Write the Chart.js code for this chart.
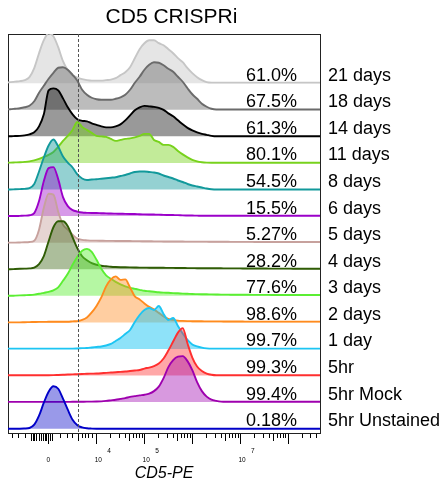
<!DOCTYPE html>
<html>
<head>
<meta charset="utf-8">
<script src="https://cdn.jsdelivr.net/npm/chart.js@4.4.1/dist/chart.umd.min.js"></script>
<style>
html,body{margin:0;padding:0;background:#fff;}
#wrap{width:448px;height:490px;position:relative;}
</style>
</head>
<body>
<div id="wrap"><canvas id="c" width="448" height="490"></canvas></div>
<script>
// ---------- text ----------
const TITLE = 'CD5 CRISPRi';
const AXIS_TITLE = 'CD5-PE';
const SAMPLES = ['21 days','18 days','14 days','11 days','8 days','6 days','5 days','4 days','3 days','2 days','1 day','5hr','5hr Mock','5hr Unstained'];
const PERCENTS = ['61.0%','67.5%','61.3%','80.1%','54.5%','15.5%','5.27%','28.2%','77.6%','98.6%','99.7%','99.3%','99.4%','0.18%'];

// ---------- x axis (display units: decades of CD5-PE, biexponential) ----------
const ZERO_POS = 2.994;             // where the value 0 sits on the display axis
const GATE = 3.614;                 // dashed gate position
const MAJOR_TICKS = [ZERO_POS, 4, 5, 6, 7, 8];
const TICK_EXPONENTS = ['', '4', '5', '', '7', ''];
const TICK_BASES = ['0', '10', '10', '', '10', ''];
const NEAR_ZERO_TICKS = [2.633, 2.674, 2.706, 2.747, 2.810, 2.841, 2.894, 2.925, 2.956, 3.029, 3.081, 3.614];
const LOW_MINOR_TICKS = [2.236, 2.361, 2.507, 3.238, 3.384, 3.489, 3.697, 3.760, 3.823, 3.906];
const DECADES = [4, 5, 6, 7, 8];
const MINOR_MULTIPLIERS = [2, 3, 4, 6, 7, 8, 9];

// ---------- histogram samples (shared x positions, heights per sample) ----------
const XPOS = [2.1,2.2,2.3,2.4,2.5,2.6,2.7,2.8,2.9,3.0,
  3.1,3.2,3.3,3.4,3.5,3.6,3.7,3.8,3.9,4.0,
  4.1,4.2,4.3,4.4,4.5,4.6,4.7,4.8,4.9,5.0,
  5.1,5.2,5.3,5.4,5.5,5.6,5.7,5.8,5.9,6.0,
  6.1,6.2,6.3,6.4,6.5,6.6,6.7,6.8,6.9,7.0,
  7.1,7.2,7.3,7.4,7.5,7.6,7.7,7.8,7.9,8.0,
  8.1,8.2,8.3,8.4,8.5,8.6,8.7];

const d21 = [0.5,1,1.5,2,3,6,15,30,43,50,
  47,36,22,13,8,5.5,4,3,2.5,2.5,
  2.5,3,3.5,5,8,11,16,25,34,40,
  43,43,40,38,34,30,25,21,15,10,
  6,3,1,0.5,0.5,0.5,0.5,0.5,0.5,0.5,
  0.5,0.5,0.5,0.5,0.5,0.5,0.5,0.5,0.5,0.5,
  0.5,0.5,0.5,0.5,0.5,0.5,0.5];
const d18 = [0.3,0.5,1,1.5,2.5,4,8.5,17,24,31,
  37,42,42.5,40,35,29,20,15,12,10.5,
  10,10,10,11,12.5,15,20,27,33,40,
  45,47.5,47,44.5,41,38,33,28,21.5,15.5,
  11,6,3,1,0.3,0.3,0.3,0.3,0.3,0.3,
  0.3,0.3,0.3,0.3,0.3,0.3,0.3,0.3,0.3,0.3,
  0.3,0.3,0.3,0.3,0.3,0.3,0.3];
const d14 = [0,0,0.3,0.5,1,2,4,10,22,46,
  48,46,38,29,22,17,15.5,15,13,11.5,
  10,9,9,10,12,16,21,26,29,30.5,
  30,29.5,28.5,26.5,23,20,16,12,8.5,6,
  4,2.5,1.5,0.5,0,0,0,0,0,0,
  0,0,0,0,0,0,0,0,0,0,
  0,0,0,0,0,0,0];
const d11 = [0.2,0.3,0.5,0.7,1,1.5,2.5,4,6,8,
  11,16,22,27,33,41,36,33,30,27,
  26.5,26,24,22,23,24,24.5,25.5,27,29,
  29,23,21,18,18,16,12,8.5,5.5,3,
  1.5,0.7,0.3,0.2,0.2,0.2,0.2,0.2,0.2,0.2,
  0.2,0.2,0.2,0.2,0.2,0.2,0.2,0.2,0.2,0.2,
  0.2,0.2,0.2,0.2,0.2,0.2,0.2];
const d8 = [0,0,0.2,0.4,0.6,1.3,5.5,18,32,44,
  50,43,33,27,22,15,11,9.5,10,10.3,
  10.8,11.3,11.8,12.3,13.5,14.5,16,17.5,18,18,
  17.5,17,16,14,12.5,11,9,7.5,5.5,4,
  3,2,1,0.3,0,0,0,0,0,0,
  0,0,0,0,0,0,0,0,0,0,
  0,0,0,0,0,0,0];
const d6 = [0,0,0,0.2,0.4,0.8,3,15,35,48,
  49,37,19,10,6,4.5,3.5,3.2,3,3,
  2.8,2.7,2.5,2.4,2.3,2.2,2.1,2,1.8,1.7,
  1.6,1.5,1.4,1.2,1.1,1,0.9,0.7,0.6,0.5,
  0.4,0.3,0.3,0.3,0.3,0.3,0.3,0.3,0.3,0.3,
  0.3,0.3,0.3,0.3,0.3,0.3,0.3,0.3,0.3,0.3,
  0.3,0.3,0.3,0.3,0.3,0.3,0.3];
const d5 = [0,0,0,0.2,0.4,0.7,2,13,35,49,
  48,31,18,13,8,4,2.8,2.3,2,2,
  1.9,1.8,1.8,1.7,1.7,1.6,1.6,1.5,1.5,1.4,
  1.4,1.3,1.3,1.2,1.2,1.1,1.1,1.1,1,1,
  1,1,1,0.9,0.9,0.9,0.9,0.8,0.8,0.8,
  0.8,0.8,0.7,0.7,0.7,0.7,0.7,0.7,0.6,0.6,
  0.6,0.6,0.6,0.6,0.6,0.6,0.6];
const d4 = [0,0,0.2,0.4,0.6,0.8,1.5,5,13,28,
  42,48,48,43,32,21,13,9,6,4.5,
  3.5,3,2.5,2.2,2,1.9,1.8,1.7,1.6,1.6,
  1.5,1.5,1.4,1.4,1.3,1.3,1.2,1.2,1.1,1.1,
  1,1,1,0.9,0.9,0.9,0.8,0.8,0.8,0.8,
  0.7,0.7,0.7,0.7,0.7,0.6,0.6,0.6,0.6,0.6,
  0.5,0.5,0.5,0.5,0.5,0.5,0.5];
const d3 = [0,0,0.2,0.4,0.6,0.8,1.2,2,3,4,
  5.5,8.5,15,22,31,39,45,47,44,36,
  27,20.5,17,14,11.5,9.5,8,7,6,5,
  4.5,4,3.5,3.2,3,2.7,2.5,2.2,2,1.8,
  1.7,1.6,1.5,1.4,1.3,1.2,1.2,1.1,1.1,1,
  1,1,0.9,0.9,0.9,0.9,0.8,0.8,0.8,0.8,
  0.8,0.8,0.8,0.8,0.8,0.8,0.8];
const d2 = [0,0,0,0,0.2,0.3,0.4,0.5,0.5,0.6,
  0.6,0.6,0.7,0.7,1,1.3,2.5,5,10,16.5,
  25,36,43,46,42.5,43,35,26,23,19,
  15.5,13,9.5,6,3.5,2.5,1.8,1.5,1.3,1.2,
  1.1,1.1,1,1,1,1,0.9,0.9,0.9,0.9,
  0.8,0.8,0.8,0.8,0.8,0.8,0.8,0.8,0.8,0.8,
  0.8,0.8,0.8,0.8,0.8,0.8,0.8];
const d1 = [0.3,0.3,0.3,0.3,0.3,0.3,0.3,0.3,0.3,0.3,
  0.3,0.3,0.3,0.3,0.3,0.5,0.8,1,1.5,2,
  2.5,3.5,5,8,11,15,19,27,34,39,
  41,39,43,35,29,31,23,15.5,9,4.5,
  2.5,1.3,0.6,0.3,0.3,0.3,0.3,0.3,0.3,0.3,
  0.3,0.3,0.3,0.3,0.3,0.3,0.3,0.3,0.3,0.3,
  0.3,0.3,0.3,0.3,0.3,0.3,0.3];
const hr5 = [0.3,0.3,0.3,0.3,0.3,0.3,0.3,0.3,0.3,0.3,
  0.4,0.6,0.8,1,1.2,1.3,1.5,1.8,1.9,2,
  2.3,2.7,3,3.3,3.7,4,4.5,5,5.5,7,
  8,9.5,12,17,25,34,43,47.5,32,18,
  9,4.5,2,0.8,0.3,0.3,0.3,0.3,0.3,0.3,
  0.3,0.3,0.3,0.3,0.3,0.3,0.3,0.3,0.3,0.3,
  0.3,0.3,0.3,0.3,0.3,0.3,0.3];
const hr5Mock = [0.2,0.2,0.2,0.2,0.2,0.2,0.2,0.2,0.2,0.2,
  0.2,0.2,0.2,0.2,0.3,0.3,0.4,0.5,0.5,0.6,
  0.8,1.2,1.8,2.4,3.2,4,5.2,6,6.8,7.4,
  8.5,11,15.5,24,35,42,45.5,46,41,32,
  20,11,5.5,2.5,1.3,0.5,0.3,0.3,0.3,0.3,
  0.3,0.3,0.3,0.3,0.3,0.3,0.3,0.3,0.3,0.3,
  0.3,0.3,0.3,0.3,0.3,0.3,0.3];
const hr5Unstained = [0,0,0,0,0.2,0.7,4,13,26,37,
  42.5,40,30,19,9,3.5,1.3,0.4,0.1,0,
  0,0,0,0,0,0,0,0,0,0,
  0,0,0,0,0,0,0,0,0,0,
  0,0,0,0,0,0,0,0,0,0,
  0,0,0,0,0,0,0,0,0,0,
  0,0,0,0,0,0,0];

const SERIES = [d21, d18, d14, d11, d8, d6, d5, d4, d3, d2, d1, hr5, hr5Mock, hr5Unstained];

// ---------- styles ----------
const LINE_COLORS = ['#c6c6c6','#6b6b6b','#000000','#78d21c','#12999b','#9b00c9','#c7a19d','#2f5c05','#5bee33','#ff8b1e','#1dc5f3','#ff2f2f','#9e00ae','#0000c8'];
const FILL_ALPHA = [0.45,0.45,0.4,0.45,0.45,0.4,0.45,0.4,0.45,0.42,0.5,0.42,0.4,0.4];
const FONT = "'Liberation Sans', Arial, Helvetica, sans-serif";

function hexToRgba(hex, a) {
  const n = parseInt(hex.slice(1), 16);
  return 'rgba(' + ((n >> 16) & 255) + ',' + ((n >> 8) & 255) + ',' + (n & 255) + ',' + a + ')';
}

// ---------- layout constants ----------
const X_MIN = 2.152, X_MAX = 8.666;
const Y_MIN = -4.3, Y_MAX = 395;
const ROW_STEP = 26.6;
const LABEL_RISE = 7.5;
const NROWS = SERIES.length;
const baseOf = i => (NROWS - 1 - i) * ROW_STEP;

const logMinorTicks = [];
const fiveTicks = [];
DECADES.forEach(n => {
  MINOR_MULTIPLIERS.forEach(k => { const v = n + Math.log10(k); if (v < X_MAX) logMinorTicks.push(v); });
  const f = n + Math.log10(5); if (f < X_MAX) fiveTicks.push(f);
});
const MID_TICKS = NEAR_ZERO_TICKS.concat(fiveTicks);
const SMALL_TICKS = LOW_MINOR_TICKS.concat(logMinorTicks);

function makeXLabel(i) {
  const b = TICK_BASES[i];
  if (!b) return '';
  const e = TICK_EXPONENTS[i];
  if (!e) return ['', b];
  return [' '.repeat(14) + e, '  ' + b];
}

const datasets = SERIES.map((h, i) => ({
  label: SAMPLES[i],
  data: XPOS.map((x, k) => ({x: x, y: baseOf(i) + h[k]})),
  borderColor: LINE_COLORS[i],
  backgroundColor: hexToRgba(LINE_COLORS[i], FILL_ALPHA[i]),
  borderWidth: 1.9,
  pointRadius: 0,
  pointHoverRadius: 0,
  fill: {value: baseOf(i)},
  cubicInterpolationMode: 'monotone',
  order: NROWS - i,
  xAxisID: 'x',
  yAxisID: 'y'
}));

const overlayPlugin = {
  id: 'overlay',
  afterDatasetsDraw(chart) {
    const {ctx, chartArea, scales} = chart;
    // gate line
    const gx = Math.round(scales.x.getPixelForValue(GATE)) + 0.5;
    ctx.save();
    ctx.strokeStyle = '#555';
    ctx.lineWidth = 1;
    ctx.setLineDash([3, 2]);
    ctx.beginPath();
    ctx.moveTo(gx, chartArea.top);
    ctx.lineTo(gx, chartArea.bottom);
    ctx.stroke();
    ctx.restore();
    // percentages
    ctx.save();
    ctx.font = '18px ' + FONT;
    ctx.fillStyle = '#000';
    ctx.textAlign = 'right';
    ctx.textBaseline = 'middle';
    PERCENTS.forEach((p, i) => {
      ctx.fillText(p, chartArea.right - 23, scales.y.getPixelForValue(baseOf(i) + LABEL_RISE));
    });
    ctx.restore();
  },
  afterDraw(chart) {
    const {ctx, chartArea} = chart;
    ctx.save();
    ctx.font = '21px ' + FONT;
    ctx.fillStyle = '#000';
    ctx.textAlign = 'center';
    ctx.textBaseline = 'alphabetic';
    ctx.fillText(TITLE, chartArea.left + 163.5, 22.7);
    ctx.restore();
  }
};

Chart.defaults.font.family = FONT;

new Chart(document.getElementById('c'), {
  type: 'line',
  data: {datasets: datasets},
  options: {
    responsive: false,
    animation: false,
    devicePixelRatio: 1,
    events: [],
    layout: {padding: {left: 8, top: 34, right: 0, bottom: 0}},
    plugins: {legend: {display: false}, tooltip: {enabled: false}, title: {display: false}},
    scales: {
      x: {
        type: 'linear', position: 'bottom', min: X_MIN, max: X_MAX,
        afterBuildTicks: s => { s.ticks = MAJOR_TICKS.map(v => ({value: v})); },
        afterFit: s => { s.height = 57; },
        ticks: {autoSkip: false, maxRotation: 0, minRotation: 0, padding: 2, color: '#000',
                font: {size: 6.5, family: FONT, lineHeight: 1.5},
                callback: (v, i) => makeXLabel(i)},
        grid: {drawOnChartArea: false, drawTicks: true, tickLength: 11, tickColor: '#000', tickWidth: 1},
        border: {display: true, color: '#222', width: 1},
        title: {display: true, text: AXIS_TITLE, color: '#000',
                font: {size: 16, style: 'italic', family: FONT}, padding: {top: 0, bottom: 7}}
      },
      xMid: {
        type: 'linear', position: {y: Y_MIN}, min: X_MIN, max: X_MAX,
        afterBuildTicks: s => { s.ticks = MID_TICKS.map(v => ({value: v})); },
        ticks: {display: false, autoSkip: false},
        grid: {drawOnChartArea: false, drawTicks: true, tickLength: 8, tickColor: '#000', tickWidth: 1},
        border: {display: false}
      },
      xSmall: {
        type: 'linear', position: {y: Y_MIN}, min: X_MIN, max: X_MAX,
        afterBuildTicks: s => { s.ticks = SMALL_TICKS.map(v => ({value: v})); },
        ticks: {display: false, autoSkip: false},
        grid: {drawOnChartArea: false, drawTicks: true, tickLength: 5, tickColor: '#000', tickWidth: 1},
        border: {display: false}
      },
      xTop: {
        type: 'linear', position: 'top', min: X_MIN, max: X_MAX,
        afterFit: s => { s.height = 0; },
        ticks: {display: false},
        grid: {display: false, drawTicks: false},
        border: {display: true, color: '#222', width: 1}
      },
      y: {
        type: 'linear', position: 'left', min: Y_MIN, max: Y_MAX,
        afterFit: s => { s.width = 0; },
        ticks: {display: false},
        grid: {display: false, drawTicks: false},
        border: {display: true, color: '#222', width: 1}
      },
      yR: {
        type: 'linear', position: 'right', min: Y_MIN, max: Y_MAX,
        afterBuildTicks: s => { s.ticks = SAMPLES.map((_, i) => ({value: baseOf(i) + LABEL_RISE})); },
        afterFit: s => { s.width = 128; },
        ticks: {autoSkip: false, padding: 8, color: '#000', font: {size: 18, family: FONT},
                callback: (v, i) => SAMPLES[i]},
        grid: {display: false, drawTicks: false},
        border: {display: true, color: '#222', width: 1}
      }
    }
  },
  plugins: [overlayPlugin]
});
</script>
</body>
</html>
